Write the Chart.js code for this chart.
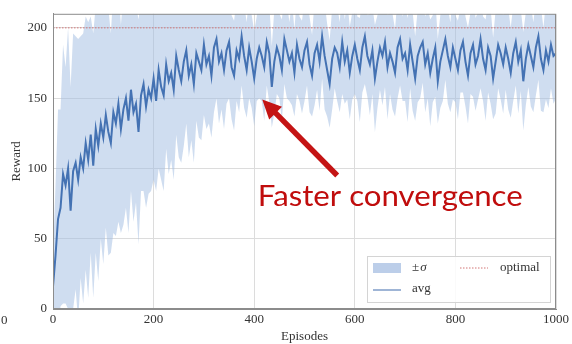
<!DOCTYPE html>
<html>
<head>
<meta charset="utf-8">
<script src="https://cdn.jsdelivr.net/npm/chart.js@4/dist/chart.umd.min.js"></script>
<style>
  html, body { margin: 0; padding: 0; background: #fff; }
  #wrap { width: 572px; height: 344px; position: relative; }
</style>
</head>
<body>
<div id="wrap"><canvas id="c" width="572" height="344"></canvas></div>
<script>
// Episodes are sampled every 5 steps, 0 .. 1000
const EPISODE_STEP = 5;

// Mean episode reward over runs
const avgReward = [
  16, 38, 64, 72, 96, 88, 100, 70, 98, 104, 92, 108, 100, 118, 106, 124, 102, 128, 116, 132,
  122, 138, 126, 118, 140, 132, 146, 128, 142, 150, 134, 156, 140, 146, 126, 152, 160, 144, 156, 150,
  164, 148, 170, 158, 152, 174, 162, 168, 156, 180, 170, 162, 176, 184, 166, 174, 160, 182, 176, 170,
  188, 174, 180, 166, 186, 192, 176, 182, 170, 184, 190, 172, 166, 184, 178, 194, 180, 170, 186, 176,
  164, 178, 186, 180, 172, 190, 182, 158, 176, 186, 180, 170, 192, 184, 176, 182, 168, 188, 178, 172,
  184, 190, 174, 166, 182, 188, 176, 194, 180, 170, 160, 178, 186, 182, 172, 190, 176, 184, 168, 180,
  188, 178, 170, 186, 194, 180, 174, 184, 164, 176, 186, 180, 190, 172, 182, 176, 168, 186, 192, 178,
  182, 170, 188, 176, 164, 180, 186, 190, 174, 182, 168, 178, 186, 162, 176, 184, 192, 180, 172, 186,
  178, 170, 184, 190, 176, 166, 182, 188, 174, 180, 192, 178, 170, 186, 180, 164, 176, 188, 182, 174,
  186, 178, 168, 182, 190, 176, 184, 162, 178, 188, 180, 172, 186, 194, 178, 170, 184, 176, 188, 180,
  182
];

// Standard deviation of the reward over runs
const sigmaReward = [
  22, 50, 78, 70, 92, 84, 100, 88, 98, 90, 100, 86, 96, 90, 98, 84, 94, 88, 96, 82,
  90, 80, 88, 78, 86, 80, 84, 74, 82, 78, 80, 72, 78, 70, 80, 68, 76, 72, 74, 66,
  72, 64, 70, 66, 68, 60, 66, 62, 64, 56, 62, 58, 60, 52, 58, 54, 56, 48, 54, 50,
  50, 46, 48, 44, 46, 42, 44, 40, 42, 38, 40, 37, 39, 36, 38, 35, 37, 34, 36, 33,
  34, 30, 36, 32, 38, 31, 35, 29, 37, 33, 30, 36, 32, 34, 28, 37, 31, 35, 30, 33,
  36, 31, 34, 29, 37, 32, 35, 30, 38, 33, 31, 36, 29, 34, 32, 37, 30, 35, 33, 31,
  35, 30, 37, 32, 34, 29, 36, 31, 38, 33, 30, 35, 32, 37, 29, 34, 31, 36, 33, 30,
  34, 37, 31, 35, 30, 33, 36, 29, 34, 32, 38, 31, 35, 30, 33, 36, 29, 34, 32, 37,
  31, 35, 30, 36, 32, 34, 29, 37, 33, 31, 35, 30, 36, 32, 34, 29, 37, 31, 33, 35,
  30, 36, 32, 34, 31, 37, 29, 35, 33, 30, 36, 32, 34, 31, 37, 30, 35, 33, 31, 34,
  32
];

const optimalReward = 200;
const xTicks = [0, 200, 400, 600, 800, 1000];
const yTicks = [0, 50, 100, 150, 200];

const episodes = avgReward.map((_, i) => i * EPISODE_STEP);
const toPoints = arr => arr.map((v, i) => ({ x: episodes[i], y: v }));
const upperBand = avgReward.map((m, i) => m + sigmaReward[i]);
const lowerBand = avgReward.map((m, i) => m - sigmaReward[i]);

const SERIF = '"Liberation Serif", "DejaVu Serif", serif';
const BAND_COLOR = 'rgba(160, 188, 225, 0.5)';
const AVG_COLOR = '#4472b3';
const OPT_COLOR = '#d27474';
const NOTE_COLOR = '#c41414';

// Grey frame around the plot area
const frame = {
  id: 'frame',
  afterDraw(chart) {
    const { ctx, chartArea: a } = chart;
    ctx.save();
    ctx.strokeStyle = '#8c8c8c';
    ctx.lineWidth = 1;
    ctx.strokeRect(a.left + 0.5, a.top + 0.5, a.right - a.left - 1, a.bottom - a.top - 1);
    ctx.restore();
  }
};

// Legend box in the lower right corner of the plot
const cornerLegend = {
  id: 'cornerLegend',
  afterDraw(chart) {
    const { ctx, chartArea: a } = chart;
    const bx = a.right - 189, by = a.bottom - 53, bw = 183, bh = 46;
    ctx.save();
    ctx.fillStyle = 'rgba(255,255,255,0.85)';
    ctx.fillRect(bx, by, bw, bh);
    ctx.strokeStyle = '#d4d4d4';
    ctx.lineWidth = 1;
    ctx.strokeRect(bx + 0.5, by + 0.5, bw, bh);

    const r1 = by + 12, r2 = by + 34;
    // ±σ swatch
    ctx.fillStyle = 'rgba(165, 190, 225, 0.75)';
    ctx.fillRect(bx + 6, r1 - 5, 28, 10);
    // avg swatch
    ctx.strokeStyle = '#7f9cc9';
    ctx.lineWidth = 1.5;
    ctx.beginPath(); ctx.moveTo(bx + 6, r2); ctx.lineTo(bx + 34, r2); ctx.stroke();
    // optimal swatch
    ctx.strokeStyle = OPT_COLOR;
    ctx.lineWidth = 1;
    ctx.setLineDash([1.5, 1.5]);
    ctx.beginPath(); ctx.moveTo(bx + 93, r1); ctx.lineTo(bx + 121, r1); ctx.stroke();
    ctx.setLineDash([]);

    ctx.fillStyle = '#333';
    ctx.textBaseline = 'middle';
    ctx.textAlign = 'left';
    ctx.font = '13px ' + SERIF;
    ctx.fillText('±', bx + 45, r1);
    const pw = ctx.measureText('±').width;
    ctx.font = 'italic 13px ' + SERIF;
    ctx.fillText('σ', bx + 45 + pw + 1, r1);
    ctx.font = '13px ' + SERIF;
    ctx.fillText('avg', bx + 45, r2 - 1);
    ctx.fillText('optimal', bx + 133, r1);
    ctx.restore();
  }
};

// Red call-out pointing at the plateau
const callout = {
  id: 'callout',
  afterDraw(chart) {
    const { ctx } = chart;
    const xs = chart.scales.x, ys = chart.scales.y;
    const tip = { x: xs.getPixelForValue(416), y: ys.getPixelForValue(149) };
    const tail = { x: xs.getPixelForValue(565), y: ys.getPixelForValue(95) };
    const dx = tip.x - tail.x, dy = tip.y - tail.y;
    const len = Math.hypot(dx, dy);
    const ux = dx / len, uy = dy / len;
    const headLen = 19, headHalf = 9;
    const base = { x: tip.x - ux * headLen, y: tip.y - uy * headLen };

    ctx.save();
    ctx.strokeStyle = NOTE_COLOR;
    ctx.fillStyle = NOTE_COLOR;
    ctx.lineWidth = 5.5;
    ctx.beginPath();
    ctx.moveTo(tail.x, tail.y);
    ctx.lineTo(base.x + ux * 2, base.y + uy * 2);
    ctx.stroke();
    ctx.beginPath();
    ctx.moveTo(tip.x, tip.y);
    ctx.lineTo(base.x - uy * headHalf, base.y + ux * headHalf);
    ctx.lineTo(base.x + uy * headHalf, base.y - ux * headHalf);
    ctx.closePath();
    ctx.fill();

    // label, stretched to its printed width
    const label = 'Faster convergence';
    const tx = xs.getPixelForValue(407), ty = ys.getPixelForValue(73);
    ctx.font = '28px Lato, "Open Sans", sans-serif';
    ctx.textAlign = 'left';
    ctx.textBaseline = 'alphabetic';
    ctx.fillStyle = '#c00d0d';
    const w = ctx.measureText(label).width;
    ctx.translate(tx, ty);
    ctx.scale(265 / w, 1);
    ctx.fillText(label, 0, 0);
    ctx.restore();

    // tick label of a neighbouring panel at the left edge
    ctx.save();
    ctx.font = '13px ' + SERIF;
    ctx.fillStyle = '#333';
    ctx.textAlign = 'left';
    ctx.textBaseline = 'alphabetic';
    ctx.fillText('0', 1, 324);
    ctx.restore();
  }
};

new Chart(document.getElementById('c'), {
  type: 'line',
  data: {
    datasets: [
      { label: 'upper', data: toPoints(upperBand), borderWidth: 0, pointRadius: 0,
        fill: '+1', backgroundColor: BAND_COLOR, borderColor: 'rgba(0,0,0,0)', order: 3 },
      { label: '±σ', data: toPoints(lowerBand), borderWidth: 0, pointRadius: 0,
        fill: false, borderColor: 'rgba(0,0,0,0)', order: 4 },
      { label: 'optimal', data: [{ x: 0, y: optimalReward }, { x: 1000, y: optimalReward }],
        borderColor: OPT_COLOR, borderWidth: 1, borderDash: [1.5, 1.5], pointRadius: 0, fill: false, order: 2 },
      { label: 'avg', data: toPoints(avgReward), borderColor: AVG_COLOR, borderWidth: 2,
        pointRadius: 0, fill: false, order: 1 }
    ]
  },
  options: {
    responsive: false,
    animation: false,
    devicePixelRatio: 1,
    layout: { padding: { top: 10, right: 16, left: 0, bottom: 0 } },
    plugins: { legend: { display: false }, tooltip: { enabled: false } },
    elements: { line: { tension: 0 } },
    scales: {
      x: {
        type: 'linear', min: 0, max: 1000,
        afterBuildTicks: s => { s.ticks = xTicks.map(v => ({ value: v })); },
        afterFit: s => { s.height = 35; },
        ticks: { padding: 3, maxRotation: 0, color: '#333', font: { family: SERIF, size: 13 },
                 callback: v => String(v) },
        grid: { color: '#dcdcdc', drawTicks: false },
        border: { color: '#8c8c8c' },
        title: { display: true, text: 'Episodes', color: '#333',
                 font: { family: SERIF, size: 13 }, padding: { top: 0, bottom: 0 } }
      },
      y: {
        min: 0, max: 210,
        afterBuildTicks: s => { s.ticks = yTicks.map(v => ({ value: v })); },
        afterFit: s => { s.width = 53; },
        ticks: { padding: 6, color: '#333', font: { family: SERIF, size: 13 },
                 callback: v => String(v) },
        grid: { color: '#dcdcdc', drawTicks: false },
        border: { color: '#8c8c8c' },
        title: { display: true, text: 'Reward', color: '#333',
                 font: { family: SERIF, size: 13 }, padding: { top: 9, bottom: 0 } }
      }
    }
  },
  plugins: [frame, cornerLegend, callout]
});
</script>
</body>
</html>
